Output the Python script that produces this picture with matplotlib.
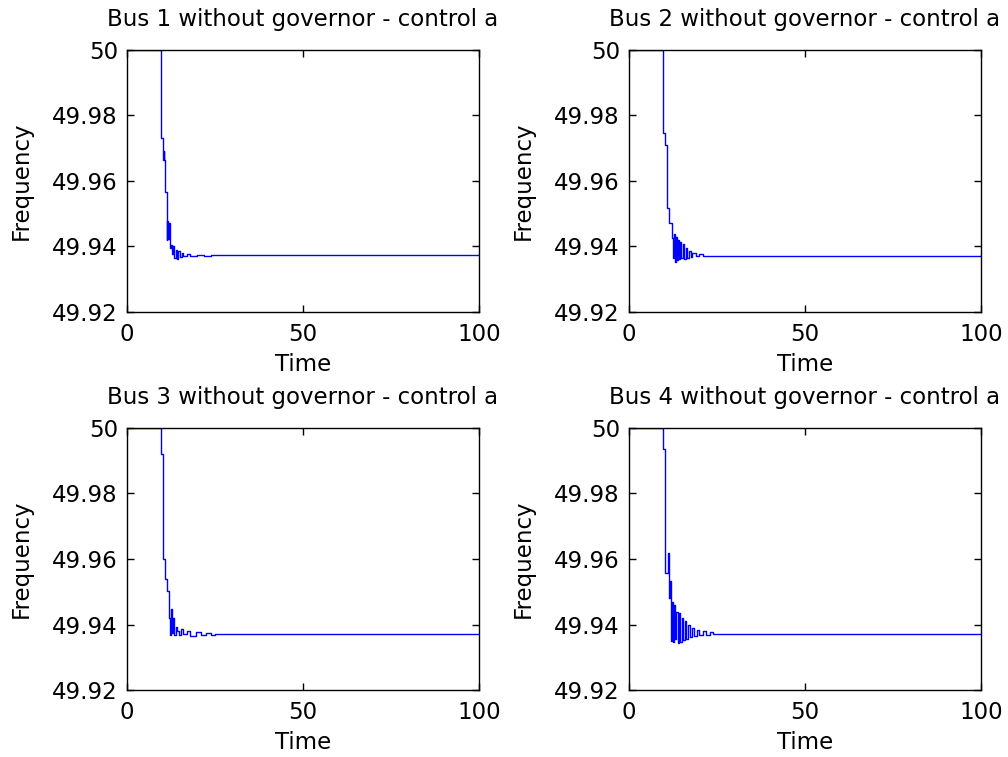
import numpy as np
import matplotlib
matplotlib.use('Agg')
import matplotlib.pyplot as plt

t_bus1 = [0, 9.65, 10.1, 10.3, 10.5, 10.6, 10.8, 11.3, 11.5, 11.7, 11.9, 12.1, 12.3, 12.6, 12.9,
          13.2, 13.5, 13.8, 14.2, 14.6, 15.0, 15.5, 16.0, 17, 18, 20, 22, 24, 100]
f_bus1 = [50.0, 49.9731, 49.9685, 49.9664, 49.9690, 49.9664, 49.9567, 49.9420, 49.9478, 49.9422,
          49.9472, 49.9430, 49.9395, 49.9405, 49.9378, 49.9400, 49.9365, 49.9390, 49.9362, 49.9385,
          49.9368, 49.9380, 49.9370, 49.9376, 49.9371, 49.9375, 49.9372, 49.9374, 49.9373]

t_bus2 = [0, 9.7, 10.35, 10.9, 11.5, 12.25, 12.5, 12.8, 13.0, 13.3, 13.6, 13.9, 14.2, 14.5, 14.9,
          15.3, 15.7, 16.1, 16.5, 17.0, 17.5, 18.0, 19, 20, 21, 100]
f_bus2 = [50.0, 49.9747, 49.9710, 49.9518, 49.9470, 49.9426, 49.9365, 49.9438, 49.9352, 49.9430,
          49.9358, 49.9420, 49.9360, 49.9412, 49.9365, 49.9408, 49.9362, 49.9396, 49.9366, 49.9385,
          49.9368, 49.9380, 49.9370, 49.9376, 49.9372, 49.9373]

t_bus3 = [0, 9.65, 10.1, 10.7, 11.3, 12.0, 12.3, 12.6, 12.9, 13.2, 13.5, 13.9, 14.3, 14.8, 15.3,
          16, 17, 18, 19.5, 21, 22.5, 24, 25, 100]
f_bus3 = [50.0, 49.9921, 49.9601, 49.9540, 49.9504, 49.9420, 49.9370, 49.9448, 49.9375, 49.9420,
          49.9368, 49.9392, 49.9380, 49.9368, 49.9386, 49.9372, 49.9380, 49.9366, 49.9377, 49.9368,
          49.9376, 49.9370, 49.9373, 49.9373]

t_bus4 = [0, 9.8, 10.35, 11.0, 11.3, 11.7, 12.0, 12.3, 12.6, 12.9, 13.2, 13.5, 13.8, 14.2, 14.6,
          15.0, 15.4, 15.8, 16.3, 16.8, 17.3, 17.8, 18.5, 19.2, 20, 21, 22, 23, 24, 100]
f_bus4 = [50.0, 49.9936, 49.9556, 49.9617, 49.9480, 49.9532, 49.9350, 49.9470, 49.9346, 49.9460,
          49.9355, 49.9440, 49.9345, 49.9435, 49.9348, 49.9420, 49.9352, 49.9410, 49.9358, 49.9400,
          49.9362, 49.9390, 49.9365, 49.9385, 49.9368, 49.9380, 49.9370, 49.9377, 49.9372, 49.9373]

titles = ['Bus 1 without governor - control a', 'Bus 2 without governor - control a',
          'Bus 3 without governor - control a', 'Bus 4 without governor - control a']
x_ticks = [0, 50, 100]
y_ticks = [49.92, 49.94, 49.96, 49.98, 50]
y_ticklabels = ['49.92', '49.94', '49.96', '49.98', '50']

plt.rcParams['font.family'] = ['DejaVu Sans']
plt.rcParams['font.size'] = 16.5

fig = plt.figure(figsize=(10.08, 7.57), dpi=100)
# axes boxes [left, bottom, width, height] in figure fractions
boxes = [[0.126, 0.588, 0.349, 0.346], [0.624, 0.588, 0.349, 0.346],
         [0.126, 0.088, 0.349, 0.347], [0.624, 0.088, 0.349, 0.347]]
series = [(t_bus1, f_bus1), (t_bus2, f_bus2), (t_bus3, f_bus3), (t_bus4, f_bus4)]

for box, (t, f), title in zip(boxes, series, titles):
    ax = fig.add_axes(box)
    ax.plot(t, f, color=(0, 0, 1), lw=1.0, drawstyle='steps-post')
    ax.set_xlim(0, 100)
    ax.set_ylim(49.92, 50)
    ax.set_xticks(x_ticks)
    ax.set_yticks(y_ticks)
    ax.set_yticklabels(y_ticklabels)
    ax.tick_params(direction='in', top=True, right=True, length=5, width=1)
    ax.tick_params(axis='x', pad=8)
    ax.tick_params(axis='y', pad=6.5)
    for s in ax.spines.values():
        s.set_linewidth(1.0)
    ax.set_title(title, fontsize=16.5, pad=17)
    ax.set_xlabel('Time', labelpad=5)
    ax.set_ylabel('Frequency', labelpad=14)

fig.savefig('out.png', dpi=100)
